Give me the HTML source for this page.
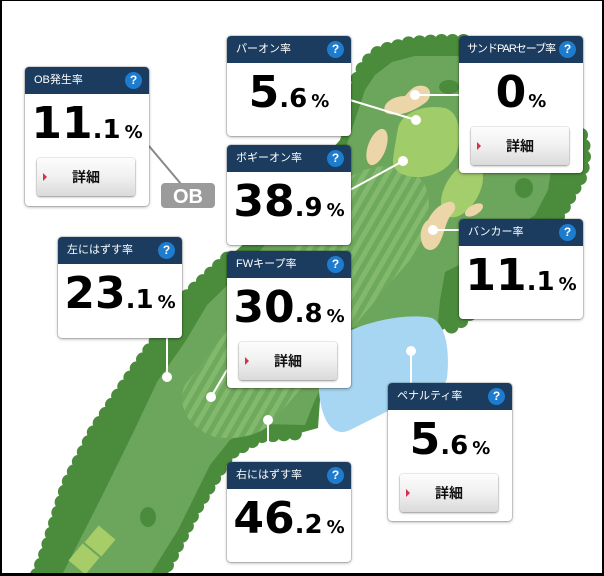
<!DOCTYPE html>
<html><head><meta charset="utf-8">
<style>
*{margin:0;padding:0}
html,body{width:604px;height:576px;overflow:hidden;background:#000;position:relative}
svg{position:absolute;left:0;top:0}
.card{position:absolute;width:124px;background:#fff;border-radius:4px;box-shadow:0 0 0 1px rgba(0,0,0,.12),0 1px 3px rgba(0,0,0,.35)}
.hd{position:relative;height:27px;background:#1b3c5e;border-radius:4px 4px 0 0;color:#fff;font-size:11px;line-height:27px;padding-left:9px;font-family:"Liberation Sans","Noto Sans CJK JP",sans-serif;white-space:nowrap}
.q{position:absolute;right:7px;top:5px;width:17px;height:17px;border-radius:50%;background:#1e7ccf;color:#fff;font:bold 12px/17px "Liberation Sans",sans-serif;text-align:center;padding:0}
.v{position:absolute;left:0;width:124px;top:32px;text-align:center;font-family:"DejaVu Sans",sans-serif;font-weight:bold;font-size:44px;line-height:50px;color:#000;white-space:nowrap}
.v .d{font-size:26px}
.v .p{font-size:18px;margin-left:4px}
.b{position:absolute;left:12px;top:91px;width:98px;height:38px;border-radius:3px;background:linear-gradient(#fdfdfd,#f0f0f0 50%,#dadada);box-shadow:0 0 0 1px rgba(0,0,0,.06),0 1px 2px rgba(0,0,0,.4);font:bold 14px/38px "Liberation Sans","Noto Sans CJK JP",sans-serif;text-align:center;color:#111}
.b:before{content:"";position:absolute;left:6px;top:15px;border-left:4px solid #d6304a;border-top:4px solid transparent;border-bottom:4px solid transparent}
</style></head>
<body>
<svg width="604" height="576" viewBox="0 0 604 576">
<defs>
<clipPath id="c"><rect x="2" y="1" width="600" height="572"/></clipPath>
<pattern id="st" width="10" height="10" patternUnits="userSpaceOnUse" patternTransform="rotate(30)"><rect width="10" height="10" fill="#6fa95d"/><rect width="5" height="10" fill="#82b96c"/></pattern>
</defs>
<rect width="604" height="576" fill="#000"/>
<rect x="2" y="1" width="600" height="572" fill="#fff"/>
<g clip-path="url(#c)">
<!-- outer tree area -->
<path d="M37,575 L45,555 L67,485 L95,430 L130,378 L165,328 L188,295 L230,256 L265,225 L300,185 L340,140 L352,100 L358,77 L366,63 L380,51 L410,43 L440,41 L465,41 L520,60 L570,100 L581,135 L584,148 L584,162 L580,178 L572,192 L565,205 L557,218 L520,262 L472,312 L460,322 L442,330 L400,330 L350,330 L320,400 L318,428 L300,433 L262,436 L235,450 L228,455 L195,510 L162,575 Z" fill="#4b8c3c"/>
<g fill="none" stroke="#4b8c3c" stroke-width="14" stroke-linecap="round" stroke-dasharray="0 11">
<path d="M37,575 L45,555 L67,485 L95,430 L130,378 L165,328 L188,295 L230,256"/>
<path d="M352,100 L358,77 L366,63 L380,51 L410,43 L440,41 L465,41"/>
<path d="M581,135 L584,148 L584,162 L580,178 L572,192 L565,205 L557,218 L520,262 L472,312 L460,322 L445,330"/>
<path d="M162,575 L195,510 L228,455 L235,450 L262,436 L300,433"/>
</g>
<!-- fairway base -->
<path d="M62,575 L100,500 L133,433 L157,382 L185,342 L207,305 L245,268 L300,205 L345,150 L365,90 L375,75 L392,62 L415,56 L465,56 L515,72 L545,100 L555,130 L552,165 L548,190 L535,215 L505,235 L465,262 L445,272 L440,300 L438,322 L400,324 L350,328 L315,400 L305,425 L262,424 L230,440 L210,465 L178,530 L150,575 Z" fill="#6ca55c"/>
<!-- striped fairway -->
<path d="M215,437 C190,430 175,405 185,385 L340,185 C365,160 410,160 425,185 C435,210 425,240 410,260 L270,425 C255,437 235,440 215,437 Z" fill="url(#st)"/>
<!-- inner tree patches -->
<ellipse cx="449" cy="87" rx="10" ry="7" fill="#4b8c3c"/>
<ellipse cx="524" cy="188" rx="9" ry="10" fill="#4b8c3c"/>
<ellipse cx="148" cy="517" rx="8" ry="10" fill="#4b8c3c"/>
<!-- putting green -->
<path d="M398,128 C402,112 425,104 445,108 C458,112 462,130 458,148 C454,165 440,175 422,177 C405,178 392,172 393,160 C394,150 396,140 398,128 Z" fill="#a0cd69"/>
<ellipse cx="462" cy="190" rx="30" ry="17" transform="rotate(-60 462 190)" fill="#a3ce6b"/>
<!-- bunkers -->
<g fill="#ebd5a9">
<path d="M386,113 C380,105 392,96 405,96 C410,90 415,84 424,86 C432,88 432,98 425,103 C415,110 400,118 386,113 Z"/>
<ellipse cx="377" cy="147" rx="9" ry="19" transform="rotate(20 377 147)"/>
<path d="M425,248 C418,240 420,225 428,220 C432,212 438,205 448,202 C455,200 458,208 452,214 C446,220 445,232 440,242 C436,250 430,252 425,248 Z"/>
<ellipse cx="474" cy="210" rx="10" ry="5" transform="rotate(-30 474 210)"/>
</g>
<!-- tee boxes -->
<g fill="#a6cd68">
<rect x="-11" y="-11" width="22" height="22" transform="translate(100,541) rotate(40)"/>
<rect x="-11" y="-11" width="22" height="22" transform="translate(84,559) rotate(40)"/>
</g>
<!-- water -->
<path d="M320,400 C316,375 322,348 345,333 C370,320 410,313 432,318 C446,325 450,350 447,378 C444,392 425,398 400,405 L350,430 C335,437 324,425 320,400 Z" fill="#a6d6f2"/>
<!-- pointer lines -->
<g stroke="#fff" stroke-width="2">
<line x1="350" y1="100" x2="416" y2="120"/>
<line x1="415" y1="95" x2="459" y2="95"/>
<line x1="350" y1="190" x2="403" y2="161"/>
<line x1="433" y1="230" x2="459" y2="230"/>
<line x1="167" y1="338" x2="167" y2="377"/>
<line x1="211" y1="397" x2="227" y2="370"/>
<line x1="268" y1="420" x2="268" y2="462"/>
<line x1="411" y1="351" x2="411" y2="383"/>
</g>
<g fill="#fff">
<circle cx="416" cy="120" r="5"/>
<circle cx="415" cy="95" r="5"/>
<circle cx="403" cy="161" r="5"/>
<circle cx="433" cy="230" r="5"/>
<circle cx="167" cy="377" r="5"/>
<circle cx="211" cy="397" r="5"/>
<circle cx="268" cy="420" r="5"/>
<circle cx="411" cy="351" r="5"/>
</g>
<line x1="149" y1="146" x2="181" y2="184" stroke="#888" stroke-width="2"/>
<rect x="161" y="183" width="54" height="25" rx="4" fill="#9b9b9b"/>
<text x="188" y="203" text-anchor="middle" fill="#fff" font-family="Liberation Sans, sans-serif" font-weight="bold" font-size="20">OB</text>
</g>
</svg>

<div class="card" style="left:25px;top:67px;height:139px">
<div class="hd">OB発生率<div class="q">?</div></div>
<div class="v">11<span class="d">.1</span><span class="p">%</span></div>
<div class="b">詳細</div>
</div>

<div class="card" style="left:227px;top:36px;height:100px">
<div class="hd">パーオン率<div class="q">?</div></div>
<div class="v">5<span class="d">.6</span><span class="p">%</span></div>
</div>

<div class="card" style="left:227px;top:145px;height:100px">
<div class="hd">ボギーオン率<div class="q">?</div></div>
<div class="v">38<span class="d">.9</span><span class="p">%</span></div>
</div>

<div class="card" style="left:459px;top:36px;height:137px">
<div class="hd" style="padding-left:8px;letter-spacing:-1px">サンドPARセーブ率<div class="q" style="letter-spacing:0">?</div></div>
<div class="v">0<span class="p" style="margin-left:2px">%</span></div>
<div class="b">詳細</div>
</div>

<div class="card" style="left:459px;top:219px;height:100px">
<div class="hd">バンカー率<div class="q">?</div></div>
<div class="v">11<span class="d">.1</span><span class="p">%</span></div>
</div>

<div class="card" style="left:58px;top:237px;height:101px">
<div class="hd">左にはずす率<div class="q">?</div></div>
<div class="v">23<span class="d">.1</span><span class="p">%</span></div>
</div>

<div class="card" style="left:227px;top:251px;height:137px">
<div class="hd">FWキープ率<div class="q">?</div></div>
<div class="v">30<span class="d">.8</span><span class="p">%</span></div>
<div class="b">詳細</div>
</div>

<div class="card" style="left:388px;top:383px;height:138px">
<div class="hd">ペナルティ率<div class="q">?</div></div>
<div class="v">5<span class="d">.6</span><span class="p">%</span></div>
<div class="b">詳細</div>
</div>

<div class="card" style="left:227px;top:462px;height:100px">
<div class="hd">右にはずす率<div class="q">?</div></div>
<div class="v">46<span class="d">.2</span><span class="p">%</span></div>
</div>

</body></html>
